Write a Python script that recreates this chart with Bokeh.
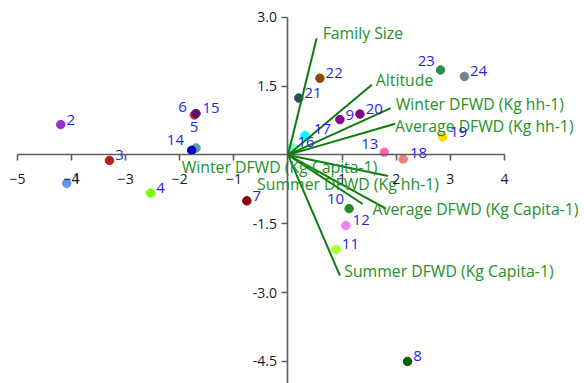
from bokeh.plotting import figure
from bokeh.models import Range1d, FixedTicker, ColumnDataSource, NumeralTickFormatter
from bokeh.core.properties import value
from bokeh.embed import file_html
from bokeh.resources import INLINE

# Observation scores (component 1, component 2)
obs_ids = [str(i) for i in range(1, 25)]
pc1 = [-4.09, -4.20, -3.30, -2.54, -1.70, -1.73, -0.76, 2.21, 0.96, 1.13, 0.89, 1.07,
       1.78, -1.78, -1.70, 0.07, 0.31, 2.13, 2.86, 1.33, 0.20, 0.59, 2.82, 3.26]
pc2 = [-0.62, 0.66, -0.12, -0.83, 0.15, 0.87, -1.00, -4.50, 0.77, -1.17, -2.06, -1.54,
       0.06, 0.10, 0.90, 0.17, 0.42, -0.09, 0.39, 0.89, 1.24, 1.67, 1.85, 1.71]
obs_colors = ["#6495ED", "#9932CC", "#B22222", "#7CFC00", "#5F9EA0", "#B03050", "#8B0000",
              "#006400", "#8B008B", "#228B22", "#ADFF2F", "#EE82EE", "#FF69B4", "#0000CD",
              "#5E1163", "#7FFFD4", "#00FFFF", "#F08080", "#FFD700", "#800080", "#2F4F4F",
              "#8B4513", "#2E8B57", "#708090"]

# Variable loadings drawn as vectors from the origin
variables = ["Family Size", "Altitude", "Winter DFWD (Kg hh-1)", "Average DFWD (Kg hh-1)",
             "Winter DFWD (Kg Capita-1)", "Summer DFWD (Kg hh-1)",
             "Average DFWD (Kg Capita-1)", "Summer DFWD (Kg Capita-1)"]
load1 = [0.53, 1.55, 1.90, 1.98, 1.38, 1.85, 1.81, 0.96]
load2 = [2.54, 1.53, 1.02, 0.68, -1.07, -0.46, -1.17, -2.63]

x_ticks = [-5, -4, -3, -2, -1, 1, 2, 3, 4]
y_ticks = [-4.5, -3.0, -1.5, 1.5, 3.0]

FONT = "Open Sans"

# label placement (screen px) for the observation numbers
obs_align = ["left"] * 24
obs_dx = [5.7] * 24
obs_dy = [-5.0] * 24
for i, (al, dx, dy) in {23: ("right", -5.7, -9.3), 13: ("right", -6, -8.4),
                        10: ("right", -5, -9.3), 6: ("right", -7.6, -7.7),
                        14: ("right", -7.7, -10), 5: ("center", -2, -20.6),
                        17: ("left", 9, -6.7), 19: ("left", 7.3, -5),
                        18: ("left", 6.7, -5.6), 12: ("left", 6.7, -5.7),
                        15: ("left", 6.4, -6)}.items():
    obs_align[i - 1], obs_dx[i - 1], obs_dy[i - 1] = al, dx, dy

# label placement (screen px) for the variable names, relative to vector tips
var_dx = [6, 4, 5, 0, -181, -131, -13.3, 4.3]
var_dy = [-5.4, -4.7, -4.4, 2.7, -37.3, 7.8, 0.3, -5]

p = figure(width=584, height=383, output_backend="svg", toolbar_location=None,
           x_range=Range1d(-5.314, 5.481), y_range=Range1d(-4.980, 3.364),
           min_border=0, outline_line_color=None, background_fill_color="white",
           border_fill_color="white")
p.grid.visible = False

for ax in (p.xaxis[0], p.yaxis[0]):
    ax.fixed_location = 0
    ax.axis_line_color = "#5c5c5c"
    ax.axis_line_width = 1.6
    ax.major_tick_line_color = "#5c5c5c"
    ax.major_tick_line_width = 1.6
    ax.major_tick_out = 6
    ax.major_tick_in = 0
    ax.minor_tick_line_color = None
    ax.major_label_text_font = FONT
    ax.major_label_text_font_size = "14px"
    ax.major_label_text_color = "#1a1a1a"

p.xaxis.ticker = FixedTicker(ticks=x_ticks)
p.yaxis.ticker = FixedTicker(ticks=y_ticks)
p.yaxis.formatter = NumeralTickFormatter(format="0.0")
p.xaxis.bounds = (-5, 4)
p.yaxis.bounds = (-5, 3)
p.xaxis.major_label_standoff = 13
p.yaxis.major_label_standoff = 5

obs = ColumnDataSource(dict(x=pc1, y=pc2, id=obs_ids, color=obs_colors,
                            align=obs_align, dx=obs_dx, dy=obs_dy))
p.scatter("x", "y", source=obs, size=8.5, fill_color="color", line_color="color")

vec = ColumnDataSource(dict(x0=[0] * len(variables), y0=[0] * len(variables),
                            x1=load1, y1=load2, name=variables, dx=var_dx, dy=var_dy))
p.segment("x0", "y0", "x1", "y1", source=vec, line_color="#0b7d0b", line_width=2)

p.text("x1", "y1", text="name", source=vec, x_offset="dx", y_offset="dy",
       text_font=value(FONT), text_font_size="15.8px", text_color="#23922a",
       text_align="left", text_baseline="middle")

p.text("x", "y", text="id", source=obs, x_offset="dx", y_offset="dy",
       text_font=value(FONT), text_font_size="15px", text_color="#1f1ff0",
       text_align="align", text_baseline="middle")

open("out.html", "w").write(file_html(p, INLINE))
